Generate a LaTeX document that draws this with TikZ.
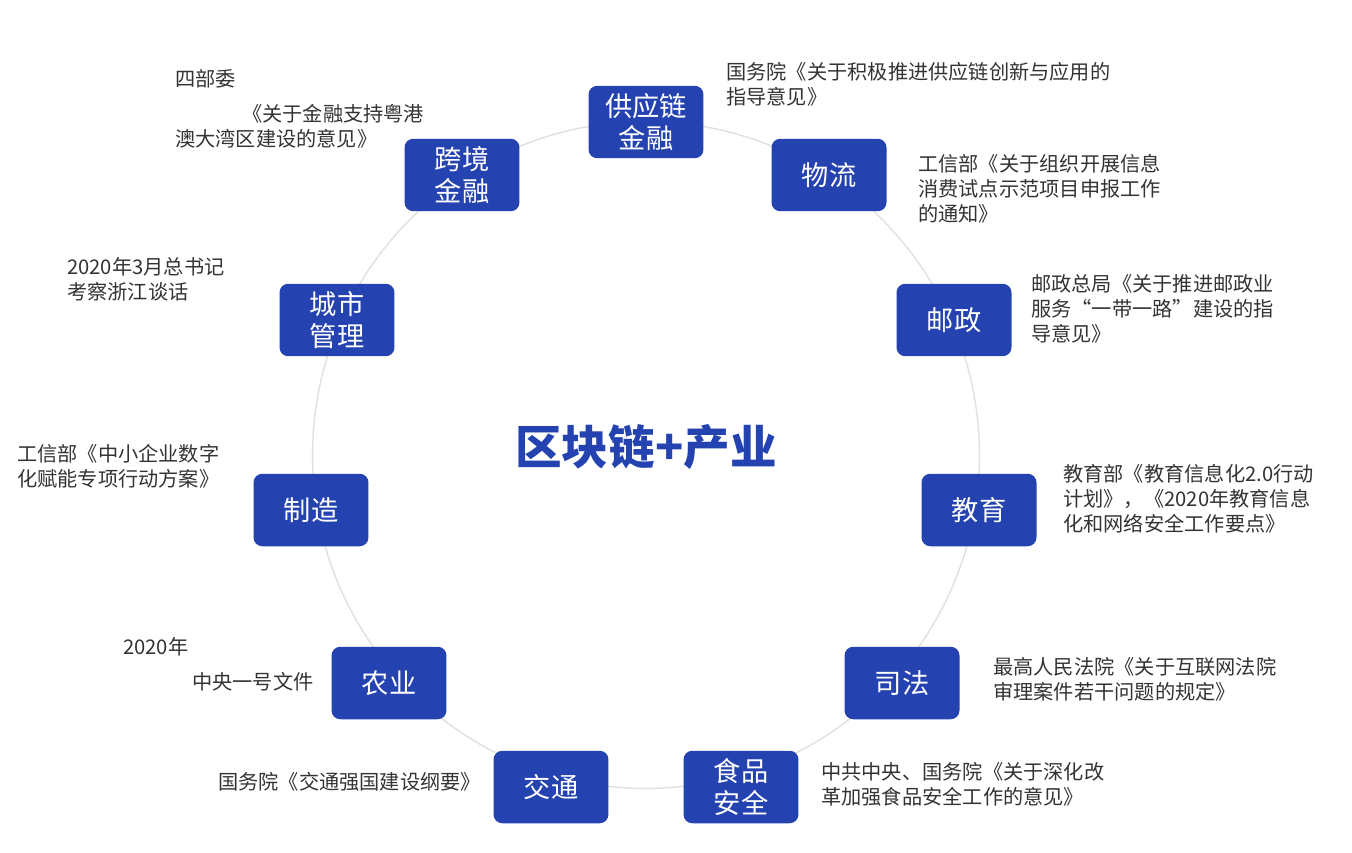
\documentclass[tikz,border=0pt]{standalone}
\usepackage{fontspec}
\setmainfont{Noto Sans CJK SC}
\definecolor{chainblue}{HTML}{2443B0}
\tikzset{
  fieldbox/.style={rectangle, rounded corners=5pt, fill=chainblue, text=white,
    minimum width=2.3cm, minimum height=1.45cm, align=center,
    font=\fontsize{15.5}{18}\selectfont},
  policy/.style={anchor=north west, align=left, text=black!80,
    font=\fontsize{11.5}{14.2}\selectfont, inner sep=0pt}
}
\begin{document}
\begin{tikzpicture}[x=0.02cm, y=-0.02cm]
            \useasboundingbox (0,0) rectangle (1352,852);
            \draw[black!12, line width=0.8pt] (646,455) circle[radius=6.67cm];

            \node[font=\fontsize{26.5}{30}\selectfont\bfseries, text=chainblue] (title) at (646,447) {区块链+产业};

            \node[fieldbox] (gyl) at (646,122) {供应链\\金融};
            \node[fieldbox] (wl) at (829,175) {物流};
            \node[fieldbox] (yz) at (954,320) {邮政};
            \node[fieldbox] (jy) at (979,510) {教育};
            \node[fieldbox] (sf) at (902,683) {司法};
            \node[fieldbox] (sp) at (741,787) {食品\\安全};
            \node[fieldbox] (jt) at (551,787) {交通};
            \node[fieldbox] (ny) at (389,683) {农业};
            \node[fieldbox] (zz) at (311,510) {制造};
            \node[fieldbox] (cs) at (337,320) {城市\\管理};
            \node[fieldbox] (kj) at (462,175) {跨境\\金融};

            \node[policy] (gylt) at (726,62) {国务院《关于积极推进供应链创新与应用的\\指导意见》};
            \node[policy] (wlt) at (918,154) {工信部《关于组织开展信息\\消费试点示范项目申报工作\\的通知》};
            \node[policy] (yzt) at (1031,274) {邮政总局《关于推进邮政业\\服务“一带一路”建设的指\\导意见》};
            \node[policy] (jyt) at (1063,464) {教育部《教育信息化2.0行动\\计划》，《2020年教育信息\\化和网络安全工作要点》};
            \node[policy] (sft) at (993,657) {最高人民法院《关于互联网法院\\审理案件若干问题的规定》};
            \node[policy] (spt) at (821,762) {中共中央、国务院《关于深化改\\革加强食品安全工作的意见》};
            \node[policy] (jtt) at (218,772) {国务院《交通强国建设纲要》};
            \node[policy] (nyt) at (123,637) {2020年};
            \node[policy] (nyt2) at (192,672) {中央一号文件};
            \node[policy] (zzt) at (17,444) {工信部《中小企业数字\\化赋能专项行动方案》};
            \node[policy] (cst) at (67,257) {2020年3月总书记\\考察浙江谈话};
            \node[policy] (kjt) at (175,69) {四部委};
            \node[policy] (kjt2) at (242,104) {《关于金融支持粤港};
            \node[policy] (kjt3) at (175,129) {澳大湾区建设的意见》};
\end{tikzpicture}
\end{document}
